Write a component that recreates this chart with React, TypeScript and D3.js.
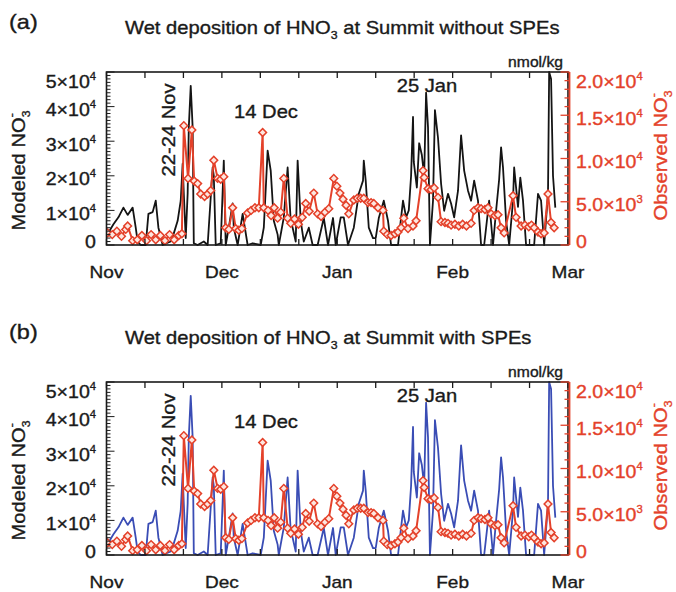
import React from "react";
import * as d3 from "d3";

const MONTH_LABELS = ["Nov", "Dec", "Jan", "Feb", "Mar"];
const MONTH_DAYS = [0, 30, 60, 90, 120];
const MINOR_DAYS = [0, 10, 20, 30, 40, 50, 60, 70, 80, 90, 100, 110, 120];

const LEFT_TICKS = [0, 10000, 20000, 30000, 40000, 50000];
const LEFT_MANT = ["0", "1×10", "2×10", "3×10", "4×10", "5×10"];
const LEFT_EXP = ["", "4", "4", "4", "4", "4"];
const RIGHT_TICKS = [0, 5000, 10000, 15000, 20000];
const RIGHT_MANT = ["0", "5.0×10", "1.0×10", "1.5×10", "2.0×10"];
const RIGHT_EXP = ["", "3", "4", "4", "4"];

const MODEL_DAYS = [
  0.3, 1.8, 3.1, 4.4, 5.5, 6.8, 7.6, 8.1, 8.9, 10.2,
  10.9, 12, 12.8, 13.5, 14.6, 15.6, 16.7, 17.4, 18.5, 19.3,
  19.8, 20.1, 20.6, 21.1, 21.4, 21.9, 22.4, 22.7, 23.7, 25.3,
  26.3, 27.6, 27.9, 28.4, 29.7, 30.5, 31, 31.8, 32.8, 33.1,
  34.1, 35.4, 36.7, 38, 40.1, 40.9, 41.9, 42.7, 43.5, 44.5,
  44.8, 46.1, 47.1, 47.9, 48.4, 49.2, 49.7, 50.5, 51.3, 52.6,
  53.6, 54.9, 56.5, 57.6, 58.9, 59.6, 60.9, 61.7, 62.8, 64.3,
  65.6, 66.7, 66.9, 67.4, 68.2, 69.3, 70, 70.8, 72.1, 73.2,
  74, 75.8, 77.1, 77.9, 78.6, 79.2, 79.7, 79.9, 80.7, 81.3,
  82, 82.6, 83.1, 83.6, 84.1, 84.9, 85.4, 86.2, 87, 87.8,
  88.8, 89.6, 90.4, 91.4, 92.2, 93, 94, 94.8, 95.6, 96.6,
  97.4, 98.2, 99.5, 100.5, 101.3, 102.1, 102.6, 103.1, 103.9, 104.7,
  105.7, 106, 106.5, 107, 107.6, 108.3, 109.1, 111.2, 112.2, 113,
  113.8, 114.8, 115.1, 115.6, 116.1, 116.7,
];

const MODEL_NO_SPE = [
  3200, 6000, 8000, 10800, 8700, 10800, 5000, 1000, 0, 0,
  9000, 9500, 12800, 5000, 0, 500, 1000, 3000, 7000, 12800,
  23500, 14800, 2000, 14800, 34000, 46000, 34000, 500, 0, 1000,
  0, 22400, 20000, 0, 500, 24400, 0, 5000, 12000, 5000,
  0, 9000, 0, 500, 0, 5000, 27300, 21500, 7000, 3000,
  0, 8000, 22400, 7000, 5000, 1000, 24400, 7000, 1000, 5000,
  0, 0, 7800, 0, 7800, 0, 8000, 8000, 0, 5000,
  14800, 18600, 24400, 18600, 5000, 2000, 2000, 7800, 12800, 7000,
  0, 0, 12800, 8000, 10000, 20000, 37000, 24000, 16600, 29400,
  26000, 20000, 44000, 34000, 0, 12800, 39000, 31000, 17700, 9900,
  14800, 12000, 8000, 15700, 31700, 21500, 15700, 12800, 18600, 12800,
  0, 0, 12800, 0, 9900, 19000, 28200, 22400, 7000, 0,
  12800, 22400, 16600, 11000, 19500, 12800, 0, 0, 14800, 12800,
  0, 14800, 50000, 48000, 20000, 10800,
];

const MODEL_WITH_SPE = [
  3200, 6000, 8000, 10800, 8700, 10800, 5000, 1000, 0, 0,
  9000, 9500, 12800, 5000, 0, 500, 1000, 3000, 7000, 12800,
  23500, 14800, 2000, 14800, 34000, 46000, 34000, 500, 0, 1000,
  0, 22400, 20000, 0, 500, 24400, 0, 5000, 12000, 5000,
  0, 9000, 0, 500, 0, 5000, 27300, 21500, 7000, 3000,
  0, 8000, 22400, 7000, 5000, 1000, 24400, 7000, 1000, 5000,
  0, 0, 7800, 0, 7800, 0, 8000, 8000, 0, 5000,
  14800, 18600, 24400, 18600, 5000, 2000, 2000, 7800, 12800, 7000,
  0, 0, 12800, 8000, 10000, 20000, 37000, 24000, 16600, 29400,
  26000, 20000, 44000, 34000, 0, 12800, 39000, 31000, 17700, 9900,
  14800, 12000, 8000, 15700, 31700, 21500, 15700, 12800, 18600, 12800,
  0, 0, 12800, 0, 9900, 19000, 28200, 22400, 7000, 0,
  12800, 22400, 16600, 11000, 19500, 12800, 0, 0, 14800, 12800,
  0, 14800, 50000, 48000, 20000, 10800,
];

const OBS_DAYS = [
  0.3, 1.5, 2.7, 3.9, 5.0, 5.5, 6.8, 8, 9.2, 10.4,
  11.6, 12.8, 14, 15.2, 16.4, 17.6, 18.8, 19.6, 20.1, 21.2,
  22.2, 22.8, 23.7, 24.5, 25.5, 26.3, 27.1, 27.9, 28.9, 29.7,
  30.5, 31, 31.8, 32.8, 33.6, 34.4, 35.2, 36.7, 37.6, 38.6,
  39.6, 40.6, 40.9, 42, 42.8, 43.6, 44.5, 45.3, 46.1, 47.1,
  47.9, 48.9, 49.9, 50.9, 51.8, 52.7, 53.9, 54.9, 55.8, 56.8,
  57.8, 59.1, 59.9, 60.7, 61.5, 62.3, 63, 64.3, 65.2, 66.1,
  66.9, 68, 68.8, 69.5, 70.6, 71.9, 72.1, 73, 74, 75,
  75.8, 76.6, 77.3, 78.4, 79.7, 80.5, 82.3, 82.6, 83.6, 84.4,
  85.2, 86.2, 87, 88, 88.8, 89.6, 90.6, 91.6, 92.6, 93.6,
  94.8, 95.6, 96.6, 97.4, 98.4, 99.2, 100, 101, 101.8, 102.6,
  103.4, 105.7, 106.5, 107.8, 108.8, 109.8, 110.5, 111.2, 112.2, 113,
  113.8, 114.8, 115.6, 116.4,
];

const OBS_NO3 = [
  1400, 1200, 1600, 1000, 1800, 2200, 500, 600, 1100, 500,
  1200, 600, 1100, 500, 1200, 600, 1100, 1300, 13800, 7700,
  13300, 7400, 7100, 5900, 5600, 5900, 6300, 9800, 7700, 7600,
  7900, 2000, 1800, 4300, 1900, 1700, 1900, 3700, 4000, 4300,
  4300, 13000, 4300, 4000, 3400, 4300, 3100, 3800, 7700, 3100,
  2500, 3000, 2400, 3200, 4800, 3900, 6000, 3600, 3300, 3800,
  4200, 7700, 6800, 6000, 5300, 4600, 3600, 5200, 5400, 5400,
  5400, 4900, 4900, 4800, 4300, 4000, 1600, 1200, 1100, 1300,
  1500, 2000, 3100, 1900, 2200, 2800, 8600, 7800, 6500, 6400,
  6600, 5500, 2700, 2600, 2500, 2300, 2400, 2200, 2400, 2200,
  2500, 4000, 4300, 4200, 4100, 4300, 3600, 3400, 3500, 2000,
  1400, 5700, 3200, 2200, 2300, 2100, 2300, 2000, 1500, 1300,
  1400, 5900, 2600, 2000,
];

const PANELS = [
  { letter: "(a)", title: "without SPEs", model: MODEL_NO_SPE, color: "#141414", offset: 0 },
  { letter: "(b)", title: "with SPEs", model: MODEL_WITH_SPE, color: "#3a4db5", offset: 310 },
];

const RED = "#e4412a";
const FONT = "'Liberation Sans', Arial, Helvetica, sans-serif";
const SX = 1.12;

function T(props: any) {
  const { x, y, rot = 0, anchor = "start", size, fill = "#1a1a1a", children } = props;
  return (
    <text
      transform={`translate(${x},${y}) rotate(${rot}) scale(${SX},1)`}
      textAnchor={anchor}
      fontSize={size}
      fill={fill}
      stroke={fill}
      strokeWidth={0.35}
      fontFamily={FONT}
    >
      {children}
    </text>
  );
}

const LEFT = 106.5;
const RIGHT = 568;

function Panel({ p, idx }: any) {
  const top = 72 + p.offset;
  const bottom = 245 + p.offset;
  const x = d3.scaleLinear().domain([0, 120]).range([LEFT, RIGHT]);
  const yL = d3.scaleLinear().domain([0, 50000]).range([bottom, top]);
  const yR = d3.scaleLinear().domain([0, 20000]).range([bottom, top]);

  const modelLine = d3
    .line<number>()
    .x((_, i) => x(MODEL_DAYS[i]))
    .y((v) => yL(v))(p.model) as string;
  const obsLine = d3
    .line<number>()
    .x((_, i) => x(OBS_DAYS[i]))
    .y((v) => yR(v))(OBS_NO3) as string;
  const diamond = d3.symbol(d3.symbolSquare, 30)() as string;

  const leftMinor = d3.range(0, 50001, 1000);
  const rightMinor = d3.range(0, 20001, 1000);
  const clipId = `clip${idx}`;

  const labelY = (ty: number) => {
    let c = ty + 3;
    c = Math.max(c, top + 9);
    c = Math.min(c, bottom - 4);
    return c + 6.5;
  };

  return (
    <g>
      <defs>
        <clipPath id={clipId}>
          <rect x={LEFT} y={top - 2} width={RIGHT - LEFT} height={bottom - top + 4} />
        </clipPath>
      </defs>
      <T x={9} y={29 + p.offset} size={21}>{p.letter}</T>
      <T x={125} y={34 + p.offset} size={18}>
        Wet deposition of HNO<tspan dy={5} fontSize={11}>3</tspan>
        <tspan dy={-5}> at Summit {p.title}</tspan>
      </T>
      <T x={563} y={top - 5} size={14} anchor="end">nmol/kg</T>

      {/* data */}
      <g clipPath={`url(#${clipId})`}>
        <path d={modelLine} fill="none" stroke={p.color} strokeWidth={1.8} strokeLinejoin="round" />
        <path d={obsLine} fill="none" stroke={RED} strokeWidth={2} strokeLinejoin="round" />
        {OBS_NO3.map((v, i) => (
          <path
            key={i}
            d={diamond}
            transform={`translate(${x(OBS_DAYS[i])},${yR(v)}) rotate(45)`}
            fill="#fde6df"
            stroke={RED}
            strokeWidth={1.5}
          />
        ))}
      </g>

      {/* frame */}
      <rect x={LEFT} y={top} width={RIGHT - LEFT} height={bottom - top} fill="none" stroke="#1a1a1a" strokeWidth={1.6} />

      {/* x ticks */}
      {MINOR_DAYS.map((d) => (
        <g key={d}>
          <line x1={x(d)} x2={x(d)} y1={top} y2={top + 6} stroke="#1a1a1a" strokeWidth={1.3} />
          <line x1={x(d)} x2={x(d)} y1={bottom} y2={bottom - 6} stroke="#1a1a1a" strokeWidth={1.3} />
        </g>
      ))}
      {MONTH_DAYS.map((d, i) => (
        <T key={d} x={x(d)} y={bottom + 33} size={17} anchor="middle">{MONTH_LABELS[i]}</T>
      ))}

      {/* left axis */}
      {leftMinor.map((v) => (
        <line key={v} x1={LEFT} x2={LEFT + (v % 10000 === 0 ? 8 : 4)} y1={yL(v)} y2={yL(v)} stroke="#1a1a1a" strokeWidth={1} />
      ))}
      {LEFT_TICKS.map((v, i) => (
        <T key={v} x={96} y={labelY(yL(v))} size={17.5} anchor="end">
          {LEFT_MANT[i]}
          {LEFT_EXP[i] ? <tspan dy={-8} fontSize={10}>{LEFT_EXP[i]}</tspan> : null}
        </T>
      ))}
      <T x={25} y={(top + bottom) / 2 + 12} rot={-90} size={18} anchor="middle">
        Modeled NO<tspan dy={5} fontSize={11}>3</tspan>
        <tspan dx={-6} dy={-15} fontSize={11}>-</tspan>
      </T>

      {/* right axis */}
      <line x1={RIGHT + 1.5} x2={RIGHT + 1.5} y1={top} y2={bottom} stroke={RED} strokeWidth={1.8} />
      {rightMinor.map((v) => (
        <line key={v} x1={RIGHT + 1.5} x2={RIGHT + 1.5 - (v % 5000 === 0 ? 9 : 5)} y1={yR(v)} y2={yR(v)} stroke={RED} strokeWidth={1.3} />
      ))}
      {RIGHT_TICKS.map((v, i) => (
        <T key={v} x={576} y={labelY(yR(v))} size={17.5} fill={RED}>
          {RIGHT_MANT[i]}
          {RIGHT_EXP[i] ? <tspan dy={-8} fontSize={10}>{RIGHT_EXP[i]}</tspan> : null}
        </T>
      ))}
      <T x={667} y={(top + bottom) / 2 - 3} rot={-90} size={18} anchor="middle" fill={RED}>
        Observed NO<tspan dy={5} fontSize={11}>3</tspan>
        <tspan dx={-6} dy={-15} fontSize={11}>-</tspan>
      </T>

      {/* annotations */}
      <T x={175} y={130 + p.offset} rot={-90} size={18} anchor="middle">22-24 Nov</T>
      <T x={266} y={118 + p.offset} size={18} anchor="middle">14 Dec</T>
      <T x={427} y={92 + p.offset} size={18} anchor="middle">25 Jan</T>
    </g>
  );
}

export default function App() {
  return (
    <svg
      width={676}
      height={592}
      viewBox="0 0 676 592"
      style={{ position: "absolute", left: 0, top: 0, display: "block", background: "#fff" }}
    >
      <rect width={676} height={592} fill="#fff" />
      {PANELS.map((p, i) => (
        <Panel key={i} p={p} idx={i} />
      ))}
    </svg>
  );
}
